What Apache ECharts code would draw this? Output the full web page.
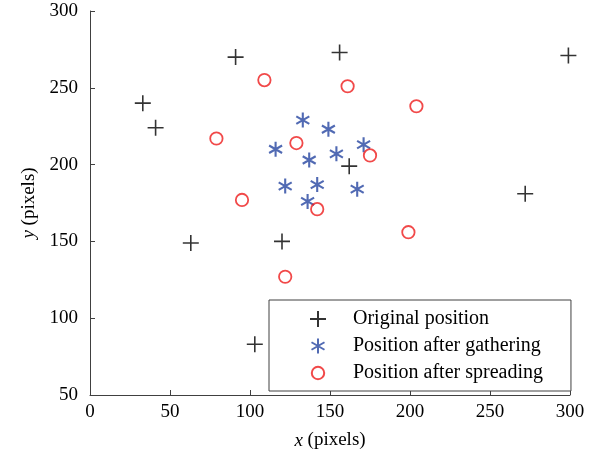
<!DOCTYPE html>
<html>
<head>
<meta charset="utf-8">
<script src="https://cdn.jsdelivr.net/npm/echarts@6/dist/echarts.min.js"></script>
<style>html,body{margin:0;padding:0;background:#fff}#c{width:602px;height:455px}</style>
</head>
<body>
<div id="c"></div>
<script>
const seriesNames = ['Original position', 'Position after gathering', 'Position after spreading'];
const originalPos = [[33,240],[41,224],[91,270],[156,273],[299,271],[162,199],[272,181],[63,149],[120,150],[103,83]];
const gatheringPos = [[133,229],[149,223],[116,210],[171,213],[137,203],[154,207],[122,186],[142,187],[167,184],[136,176]];
const spreadingPos = [[109,255],[79,217],[161,251],[204,238],[129,214],[175,206],[95,177],[142,171],[199,156],[122,127]];
const xTicks = [0, 50, 100, 150, 200, 250, 300];
const yTicks = [50, 100, 150, 200, 250, 300];

const FONT = '"Liberation Serif", "Times New Roman", serif';
// all marker paths live in a 16x16 box (bounding points M-8 -8 / M8 8) so legend icons match plot markers
const BOX = 'M-8 -8M8 8';
const plusPath = 'path://' + BOX + 'M-8 0L8 0M0 -8L0 8';
const starPath = 'path://' + BOX + 'M0 -7.5L0 7.5M-6.5 -3.75L6.5 3.75M-6.5 3.75L6.5 -3.75';
const circPath = 'path://' + BOX + 'M-6.2 0A6.2 6.2 0 1 1 6.2 0A6.2 6.2 0 1 1 -6.2 0Z';

const chart = echarts.init(document.getElementById('c'), null, {renderer: 'canvas'});
const axisCommon = {
  axisLine: {show: true, lineStyle: {color: '#404040', width: 1}},
  axisTick: {show: true, inside: true, length: 5, lineStyle: {color: '#404040'}},
  splitLine: {show: false},
  axisLabel: {color: '#000', fontFamily: FONT, fontSize: 19},
  nameTextStyle: {color: '#000', fontFamily: FONT, fontSize: 19, rich: {i: {fontStyle: 'italic', fontFamily: FONT, fontSize: 19}}}
};
chart.setOption({
  animation: false,
  backgroundColor: '#fff',
  grid: {left: 90, right: 32, top: 11, bottom: 60, containLabel: false},
  xAxis: Object.assign({}, axisCommon, {
    type: 'value', min: xTicks[0], max: xTicks[xTicks.length - 1], interval: 50,
    name: '{i|x} (pixels)', nameLocation: 'middle', nameGap: 36,
    axisLabel: Object.assign({}, axisCommon.axisLabel, {margin: 8})
  }),
  yAxis: Object.assign({}, axisCommon, {
    type: 'value', min: yTicks[0], max: yTicks[yTicks.length - 1], interval: 50,
    name: '{i|y} (pixels)', nameLocation: 'middle', nameGap: 50,
    axisLabel: Object.assign({}, axisCommon.axisLabel, {margin: 12})
  }),
  legend: {
    orient: 'vertical', left: 269, top: 300,
    padding: [9, 28, 8, 40],
    itemWidth: 16, itemHeight: 16, itemGap: 7,
    borderColor: '#404040', borderWidth: 1, backgroundColor: '#fff',
    textStyle: {color: '#000', fontFamily: FONT, fontSize: 20, lineHeight: 20, padding: [0, 0, 0, 22]},
    data: seriesNames
  },
  series: [
    {name: seriesNames[0], type: 'scatter', data: originalPos, symbol: plusPath, symbolSize: 16,
     itemStyle: {color: 'rgba(0,0,0,0)', borderColor: '#000', borderWidth: 1.6}},
    {name: seriesNames[1], type: 'scatter', data: gatheringPos, symbol: starPath, symbolSize: 16,
     itemStyle: {color: 'rgba(0,0,0,0)', borderColor: '#2545a0', borderWidth: 2.1}},
    {name: seriesNames[2], type: 'scatter', data: spreadingPos, symbol: circPath, symbolSize: 16,
     itemStyle: {color: 'rgba(0,0,0,0)', borderColor: '#ee1c1c', borderWidth: 1.8}}
  ]
});
</script>
</body>
</html>
